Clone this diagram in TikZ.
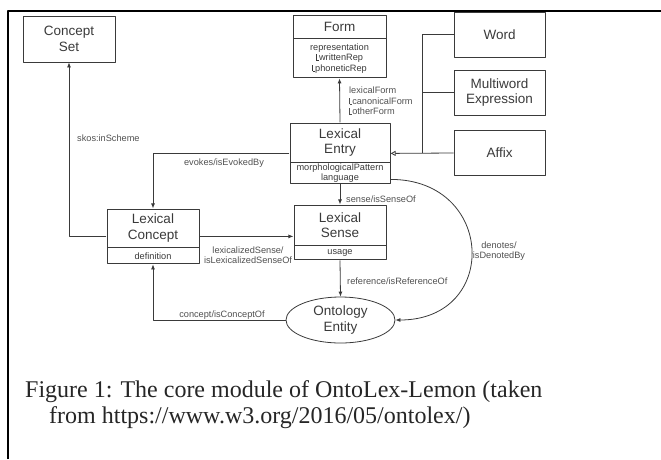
\documentclass[tikz,border=0pt]{standalone}
\usepackage{fontspec}
\setmainfont{Liberation Sans}
\newfontfamily\capfont{Liberation Serif}
\usetikzlibrary{positioning,fit,shapes.geometric,arrows.meta}
\definecolor{ink}{HTML}{3A3A3A}
\definecolor{lblgray}{HTML}{505050}
\newcommand{\crn}{\rule{0.5pt}{0.72em}\rule{0.28em}{0.5pt}}
\begin{document}
\begin{tikzpicture}[x=1pt, y=-1pt, line join=round, >={Latex[length=5pt,width=4pt]},
  cls/.style={draw=ink, line width=0.8pt, text=ink, inner sep=0pt, align=center, font=\fontsize{13.5}{15.5}\selectfont},
  att/.style={cls, font=\fontsize{9.2}{10.5}\selectfont},
  lab/.style={text=lblgray, inner sep=0pt, align=center, font=\fontsize{9.2}{10.5}\selectfont},
  con/.style={draw=ink, line width=0.8pt},
  capline/.style={anchor=base west, inner sep=0pt, text=black!85, font=\capfont\fontsize{24}{26}\selectfont}]
\useasboundingbox (0,0) rectangle (661,459);
\draw[line width=2pt] (8,459) -- (8,11) -- (661,11);
% classes
\node[cls, minimum width=92, minimum height=46] (cset) at (69,39) {Concept\\Set};
\node[cls, minimum width=93, minimum height=23] (formT) at (339.5,26.5) {Form};
\node[att, minimum width=93, minimum height=39, below=0pt of formT] (formA) {representation\\\crn writtenRep\\\crn phoneticRep};
\node[fit=(formT)(formA), inner sep=0pt] (form) {};
\node[cls, minimum width=100, minimum height=39] (entryT) at (340,142.5) {Lexical\\Entry};
\node[att, minimum width=100, minimum height=21, below=0pt of entryT] (entryA) {morphologicalPattern\\language};
\node[fit=(entryT)(entryA), inner sep=0pt] (entry) {};
\node[cls, minimum width=92, minimum height=40] (senseT) at (340,225) {Lexical\\Sense};
\node[att, minimum width=92, minimum height=14, below=0pt of senseT] (senseA) {usage};
\node[fit=(senseT)(senseA), inner sep=0pt] (sense) {};
\node[cls, minimum width=92, minimum height=38] (conceptT) at (153,228) {Lexical\\Concept};
\node[att, minimum width=92, minimum height=16, below=0pt of conceptT] (conceptA) {definition};
\node[fit=(conceptT)(conceptA), inner sep=0pt] (concept) {};
\foreach \n/\y/\t in {word/34.5/Word, mwe/92.5/Multiword\\Expression, affix/153/Affix}
  \node[cls, minimum width=91, minimum height=45] (\n) at (499.5,\y) {\t};
\node[cls, ellipse, minimum width=109, minimum height=46] (onto) at (340.5,320) {Ontology\\Entity};
% connectors
\draw[con,->] (concept.west) -| (cset.south);
\draw[con,->] (entry.west) -| (concept.north);
\draw[con,->] (entry.north) -- (form.south);
\draw[con,->] (entry.south) -- (sense.north);
\draw[con,->] (concept.east) -- (concept.east -| sense.west);
\draw[con,->] (sense.south) -- (onto.north);
\draw[con,->] (onto.west) -| (concept.south);
\coordinate (gen) at (422,153);
\draw[con] (word.west) -| (gen) (mwe.west) -- (mwe.west -| gen);
\draw[con,-{Triangle[open,length=5pt,width=5pt]}] (affix.west) -- (entry.east);
\coordinate (dn) at ([yshift=5pt]entry.south east);
\draw[con,->] (dn) to[out=0, in=0, looseness=1.9] (onto.east);
% labels
\node[lab, anchor=west] (skosL) at (77,138) {skos:inScheme};
\node[lab] (evokL) at (224,163) {evokes/isEvokedBy};
\node[lab, anchor=west, align=left] (formL) at (349,101) {lexicalForm\\\crn canonicalForm\\\crn otherForm};
\node[lab, anchor=west] (senseL) at (346,199) {sense/isSenseOf};
\node[lab] (lexL) at (248,255) {lexicalizedSense/\\isLexicalizedSenseOf};
\node[lab, anchor=west] (refL) at (347,281) {reference/isReferenceOf};
\node[lab] (concL) at (222,315) {concept/isConceptOf};
\node[lab] (denL) at (499,251) {denotes/\\isDenotedBy};
% caption
\node[capline] (cap1) at (25,397) {Figure 1: The core module of OntoLex-Lemon (taken};
\node[capline] (cap2) at (49,423) {from https://www.w3.org/2016/05/ontolex/)};
\end{tikzpicture}
\end{document}
